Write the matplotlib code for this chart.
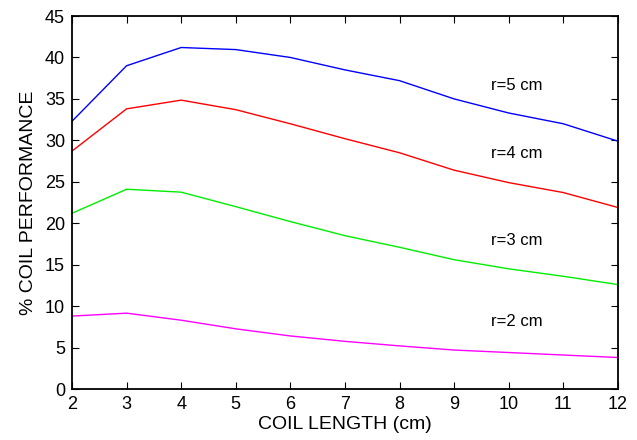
import matplotlib
matplotlib.use("Agg")
import matplotlib.pyplot as plt

plt.rcParams['font.family'] = ['Liberation Sans', 'DejaVu Sans']

length = [2, 3, 4, 5, 6, 7, 8, 9, 10, 11, 12]
r5 = [32.3, 39.0, 41.2, 40.95, 40.0, 38.5, 37.2, 35.0, 33.3, 32.0, 29.9]
r4 = [28.7, 33.8, 34.85, 33.7, 32.0, 30.2, 28.5, 26.4, 24.9, 23.7, 21.9]
r3 = [21.2, 24.1, 23.75, 22.0, 20.2, 18.5, 17.1, 15.6, 14.5, 13.6, 12.6]
r2 = [8.8, 9.15, 8.3, 7.26, 6.4, 5.75, 5.2, 4.7, 4.4, 4.1, 3.8]

series = [r5, r4, r3, r2]
colors = ['#0000ff', '#ff0000', '#00ee00', '#ff00ff']
names = ['r=5 cm', 'r=4 cm', 'r=3 cm', 'r=2 cm']
label_y = [36.6, 28.4, 17.9, 8.2]

fig = plt.figure(figsize=(6.37, 4.40), dpi=100)
ax = fig.add_axes([0.113, 0.1159, 0.857, 0.8477])

for s, c in zip(series, colors):
    ax.plot(length, s, color=c, linewidth=1.0)

for n, yy in zip(names, label_y):
    ax.text(10.15, yy, n, ha='center', va='center', fontsize=12)

ax.set_xlim(2, 12)
ax.set_ylim(0, 45)
ax.set_xticks(range(2, 13))
ax.set_yticks(range(0, 46, 5))
ax.tick_params(direction='in', top=True, right=True, length=5, labelsize=13, pad=5)
for sp in ax.spines.values():
    sp.set_linewidth(1.3)
ax.set_xlabel('COIL LENGTH (cm)', fontsize=14, labelpad=2)
ax.set_ylabel('% COIL PERFORMANCE', fontsize=14, labelpad=6)

fig.savefig('out.png', dpi=100)
